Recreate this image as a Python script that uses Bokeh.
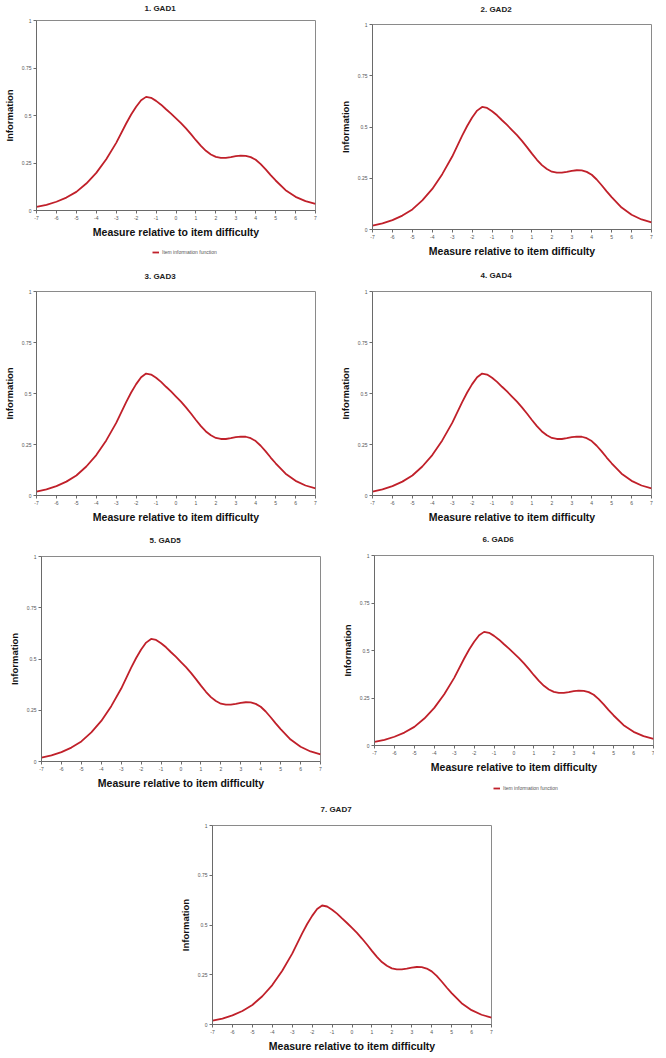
from bokeh.plotting import figure
from bokeh.models import Range1d, FixedTicker, LinearAxis, Legend, LegendItem
from bokeh.layouts import column, row
from bokeh.embed import file_html
from bokeh.resources import INLINE

# ---- data ----
theta = [-7.0, -6.5, -6.0, -5.5, -5.0, -4.5, -4.0, -3.5, -3.0, -2.5, -2.25, -2.0, -1.75, -1.5,
         -1.25, -1.0, -0.75, -0.5, -0.25, 0.0, 0.25, 0.5, 0.75, 1.0, 1.25, 1.5, 1.75, 2.0,
         2.25, 2.5, 2.75, 3.0, 3.25, 3.5, 3.75, 4.0, 4.25, 4.5, 4.75, 5.0, 5.5, 6.0, 6.5, 7.0]
info = [0.019, 0.030, 0.046, 0.068, 0.098, 0.142, 0.198, 0.270, 0.356, 0.458, 0.505, 0.546,
        0.580, 0.598, 0.593, 0.577, 0.557, 0.533, 0.510, 0.485, 0.460, 0.432, 0.402, 0.370,
        0.340, 0.314, 0.295, 0.282, 0.277, 0.277, 0.281, 0.286, 0.289, 0.288, 0.281, 0.267,
        0.244, 0.216, 0.186, 0.158, 0.107, 0.072, 0.049, 0.035]
titles = ["1. GAD1", "2. GAD2", "3. GAD3", "4. GAD4", "5. GAD5", "6. GAD6", "7. GAD7"]
x_ticks = [-7, -6, -5, -4, -3, -2, -1, 0, 1, 2, 3, 4, 5, 6, 7]
x_tick_labels = ["-7", "-6", "-5", "-4", "-3", "-2", "-1", "0", "1", "2", "3", "4", "5", "6", "7"]
y_ticks = [0, 0.25, 0.5, 0.75, 1]
y_tick_labels = ["0", "0.25", "0.5", "0.75", "1"]
x_title = "Measure relative to item difficulty"
y_title = "Information"
legend_label = "Item information function"

FONT = "Liberation Sans"
LINE = "#c0202a"


def panel(title, bl, br, bt, bb, fh, title_gap, fw=279):
    p = figure(frame_width=fw, frame_height=fh,
               min_border_left=bl, min_border_right=br,
               min_border_top=bt, min_border_bottom=bb,
               x_range=Range1d(-7, 7), y_range=Range1d(0, 1),
               output_backend="svg", toolbar_location=None, tools="")
    p.background_fill_color = "white"
    p.border_fill_color = "white"
    p.outline_line_color = "#8a8a8a"
    p.outline_line_width = 1
    p.xgrid.visible = False
    p.ygrid.visible = False

    p.line(theta, info, line_color=LINE, line_width=1.8)

    for ax, ticks, labels in ((p.xaxis[0], x_ticks, x_tick_labels),
                              (p.yaxis[0], y_ticks, y_tick_labels)):
        ax.ticker = FixedTicker(ticks=ticks, minor_ticks=[])
        ax.major_label_overrides = {t: l for t, l in zip(ticks, labels)}
        ax.major_label_text_font = FONT
        ax.major_label_text_font_size = "5px"
        ax.major_label_text_color = "#555555"
        ax.major_label_standoff = 2
        ax.major_tick_out = 3
        ax.major_tick_in = 0
        ax.minor_tick_out = 0
        ax.minor_tick_in = 0
        ax.axis_line_color = "#6a6a6a"
        ax.major_tick_line_color = "#6a6a6a"
        ax.axis_label_text_font = FONT
        ax.axis_label_text_font_style = "bold"
        ax.axis_label_text_color = "#111111"

    p.xaxis.axis_label = x_title
    p.xaxis.axis_label_text_font_size = "10.5px"
    p.xaxis.axis_label_standoff = 3
    p.yaxis.axis_label = y_title
    p.yaxis.axis_label_text_font_size = "9.5px"
    p.yaxis.axis_label_standoff = 4

    # an invisible top axis whose (hidden) tick length holds the gap between title and frame
    spacer_axis = LinearAxis(ticker=FixedTicker(ticks=[0], minor_ticks=[]),
                             major_label_overrides={0: ""},
                             axis_line_color=None, major_tick_line_color=None,
                             minor_tick_line_color=None, major_tick_out=title_gap,
                             major_tick_in=0, minor_tick_out=0, minor_tick_in=0,
                             major_label_standoff=0, major_label_text_font_size="1px",
                             major_label_text_alpha=0)
    p.add_layout(spacer_axis, "above")

    p.title.text = title
    p.title.align = "left"
    p.title.offset = 108
    p.title.standoff = 0
    p.title.text_font = FONT
    p.title.text_font_size = "8px"
    p.title.text_font_style = "bold"
    p.title.text_color = "#222222"
    return p


def legend_strip(width, height, x, y):
    # a strip under a panel that carries its legend ("Item information function")
    q = figure(width=width, height=height, min_border=0,
               x_range=Range1d(-7, 7), y_range=Range1d(2, 3),
               x_axis_type=None, y_axis_type=None,
               output_backend="svg", toolbar_location=None, tools="")
    q.outline_line_color = None
    q.background_fill_color = "white"
    q.border_fill_color = "white"
    q.xgrid.visible = False
    q.ygrid.visible = False
    r = q.line(theta, info, line_color=LINE, line_width=1.8)  # outside the strip's range
    leg = Legend(items=[LegendItem(label=legend_label, renderers=[r])],
                 location=(x, y), orientation="horizontal",
                 padding=0, margin=0, spacing=0,
                 glyph_width=7, glyph_height=6, label_height=6,
                 label_standoff=3, label_text_font=FONT,
                 label_text_font_size="5px", label_text_color="#555555",
                 border_line_alpha=0, background_fill_alpha=0)
    q.add_layout(leg)
    return q


p1 = panel(titles[0], 30, 21, 20, 26, 190, 8)
leg1 = legend_strip(330, 22, 116, 7)
p2 = panel(titles[1], 32, 9, 24, 29, 205, 11)
p3 = panel(titles[2], 31, 21, 25, 39, 204, 11)
p4 = panel(titles[3], 32, 8, 29, 35, 204, 12)
p5 = panel(titles[4], 41, 18, 26, 31, 205, 12)
p6 = panel(titles[5], 32, 1, 25, 26, 190, 12)
leg6 = legend_strip(312, 21, 119, 5)
p7 = panel(titles[6], 212, 159, 29, 26, 199, 12)

layout = column(row(column(p1, leg1), p2),
                row(p3, p4),
                row(p5, column(p6, leg6)),
                row(p7))

open("out.html", "w").write(file_html(layout, INLINE))
